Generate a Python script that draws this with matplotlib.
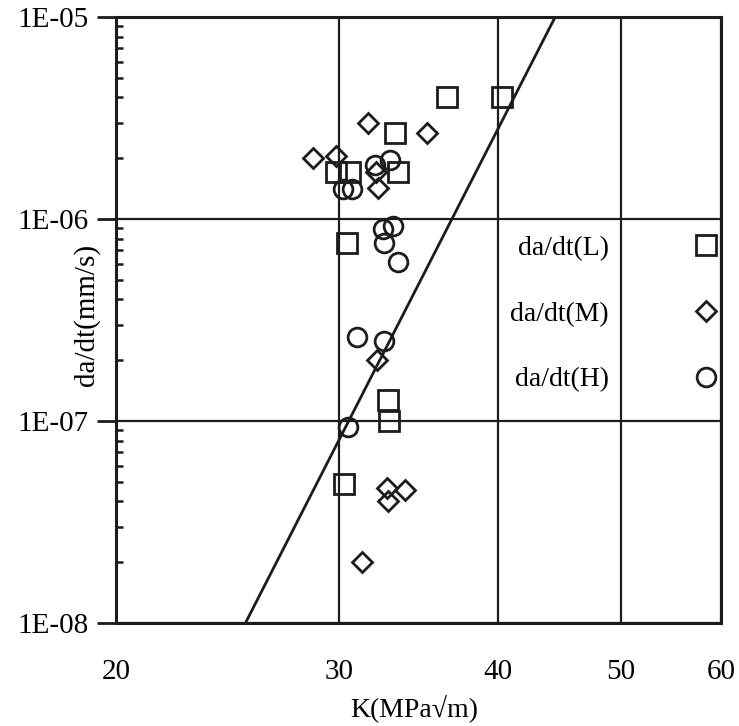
import numpy as np
import matplotlib
matplotlib.use('Agg')
import matplotlib.pyplot as plt
from matplotlib.ticker import FixedLocator, NullLocator, LogLocator, FuncFormatter, NullFormatter

plt.rcParams['font.family'] = ['Liberation Serif', 'DejaVu Serif']

# data
K_L = [40.3, 36.5, 33.2, 29.8, 30.6, 33.35, 30.4, 32.8, 32.85, 30.25]
da_L = [4.0e-6, 4.0e-6, 2.65e-6, 1.7e-6, 1.7e-6, 1.7e-6, 7.6e-7, 1.27e-7, 1.0e-7, 4.9e-8]

K_M = [28.6, 29.8, 31.6, 35.15, 32.05, 32.2, 32.1, 32.7, 33.8, 32.8, 31.25]
da_M = [2.0e-6, 2.05e-6, 3.0e-6, 2.65e-6, 1.7e-6, 1.42e-6, 2.0e-7, 4.65e-8, 4.55e-8, 4.0e-8, 2.0e-8]

K_H = [30.2, 30.7, 32.0, 32.9, 32.45, 33.1, 32.55, 33.4, 31.0, 32.55, 30.5]
da_H = [1.4e-6, 1.4e-6, 1.85e-6, 1.95e-6, 8.9e-7, 9.2e-7, 7.6e-7, 6.1e-7, 2.6e-7, 2.5e-7, 9.3e-8]

# fitted line (two end points)
K_fit = [25.3, 44.4]
da_fit = [1e-8, 1e-5]

xticks = [20, 30, 40, 50, 60]
labels = ['da/dt(L)', 'da/dt(M)', 'da/dt(H)']

ink = '#1c1c1c'

fig = plt.figure(figsize=(7.39, 7.26), dpi=100)
ax = fig.add_axes([0.157, 0.1419, 0.8186, 0.8347])
ax.set_xscale('log')
ax.set_yscale('log')
ax.set_xlim(20, 60)
ax.set_ylim(1e-8, 1e-5)

ax.grid(True, which='major', color=ink, lw=1.6)
ax.set_axisbelow(True)

ax.plot(K_fit, da_fit, color=ink, lw=2.0, zorder=3)

mk = dict(ls='none', mfc='none', mec=ink, mew=2.0, zorder=4)
hL, = ax.plot(K_L, da_L, marker='s', ms=14, **mk)
hM, = ax.plot(K_M, da_M, marker='D', ms=10, **mk)
hH, = ax.plot(K_H, da_H, marker='o', ms=13.5, **mk)

ax.legend([hL, hM, hH], labels, loc='center', bbox_to_anchor=(0.836, 0.51),
          frameon=False, markerfirst=False, fontsize=20, labelspacing=1.45,
          handlelength=2.0, handletextpad=2.5)

# axes & ticks
for s in ax.spines.values():
    s.set_linewidth(2.2)
    s.set_color(ink)

ax.xaxis.set_major_locator(FixedLocator(xticks))
ax.xaxis.set_minor_locator(NullLocator())
ax.xaxis.set_major_formatter(FuncFormatter(lambda v, p: '%d' % v))
ax.xaxis.set_minor_formatter(NullFormatter())
ax.tick_params(axis='x', which='both', length=0, pad=26, labelsize=21)

ax.yaxis.set_major_locator(LogLocator(base=10, numticks=10))
ax.yaxis.set_minor_locator(LogLocator(base=10, subs=np.arange(2, 10), numticks=20))
ax.yaxis.set_major_formatter(FuncFormatter(lambda v, p: '1E-%02d' % round(-np.log10(v))))
ax.yaxis.set_minor_formatter(NullFormatter())
ax.tick_params(axis='y', which='major', direction='out', length=14, width=2,
               color=ink, pad=6, labelsize=21)
ax.tick_params(axis='y', which='minor', direction='in', length=5, width=1.8, color=ink)

ax.set_xlabel('K(MPa\u221am)', fontsize=20)
ax.xaxis.set_label_coords(0.493, -0.118)
ax.set_ylabel('da/dt(mm/s)', fontsize=21)
ax.yaxis.set_label_coords(-0.027, 0.508)

fig.savefig('out.png', dpi=100)
print('plot done')
